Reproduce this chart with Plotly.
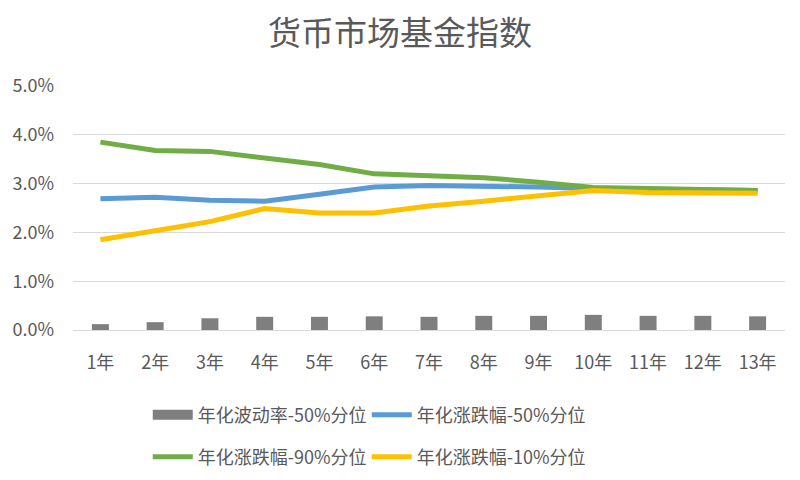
import plotly.graph_objects as go

categories = ["1年", "2年", "3年", "4年", "5年", "6年", "7年", "8年", "9年", "10年", "11年", "12年", "13年"]
vol_50 = [0.0012, 0.0016, 0.0024, 0.0027, 0.0027, 0.0028, 0.0027, 0.0029, 0.0029, 0.0031, 0.0029, 0.0029, 0.0028]
ret_50 = [0.0269, 0.0272, 0.0266, 0.0264, 0.0278, 0.0293, 0.0296, 0.0295, 0.0293, 0.0290, 0.0289, 0.0288, 0.0286]
ret_90 = [0.0385, 0.0368, 0.0366, 0.0353, 0.0339, 0.0320, 0.0316, 0.0312, 0.0303, 0.0292, 0.0290, 0.0289, 0.0286]
ret_10 = [0.0185, 0.0203, 0.0222, 0.0249, 0.0240, 0.0240, 0.0254, 0.0264, 0.0275, 0.0286, 0.0282, 0.0280, 0.0280]
yticks = [0, 0.01, 0.02, 0.03, 0.04, 0.05]

FONT = "Noto Sans CJK SC"
TXT = "#595959"
GRAY = "#7F7F7F"

fig = go.Figure()
fig.add_trace(go.Bar(x=categories, y=vol_50, name="年化波动率-50%分位", showlegend=False,
                     legendgroup="vol", marker=dict(color=GRAY, line=dict(width=0))))
# legend entry for the bar series drawn as a wide block like the original
fig.add_trace(go.Scatter(x=[None], y=[None], name="年化波动率-50%分位", mode="lines",
                         legendgroup="vol", line=dict(color=GRAY, width=11), legend="legend",
                         hoverinfo="skip"))
fig.add_trace(go.Scatter(x=categories, y=ret_50, name="年化涨跌幅-50%分位", mode="lines",
                         line=dict(color="#5B9BD5", width=5), legend="legend"))
fig.add_trace(go.Scatter(x=categories, y=ret_90, name="年化涨跌幅-90%分位", mode="lines",
                         line=dict(color="#70AD47", width=5), legend="legend2"))
fig.add_trace(go.Scatter(x=categories, y=ret_10, name="年化涨跌幅-10%分位", mode="lines",
                         line=dict(color="#FFC000", width=5), legend="legend2"))

legend_common = dict(orientation="h", xanchor="left", yanchor="middle", x=0.105,
                     yref="container",
                     font=dict(family=FONT, size=18, color=TXT), entrywidth=164,
                     bgcolor="rgba(0,0,0,0)", itemwidth=40, traceorder="normal")

fig.update_layout(
    width=800, height=480,
    paper_bgcolor="white", plot_bgcolor="white",
    margin=dict(l=71, r=15, t=86, b=150),
    title=dict(text="货币市场基金指数", x=0.5, xanchor="center", y=1 - 33 / 480, yanchor="middle",
               font=dict(family=FONT, size=33, color=TXT)),
    bargap=0.69,
    showlegend=True,
    legend=dict(y=1 - 415 / 480, **legend_common),
    legend2=dict(y=1 - 457 / 480, **legend_common),
    xaxis=dict(showgrid=False, showline=False, zeroline=False, ticks="",
               tickfont=dict(family=FONT, size=18, color=TXT), ticklabelstandoff=20),
    yaxis=dict(range=[0, 0.05], tickvals=yticks, tickformat=".1%", showgrid=True,
               gridcolor="#D9D9D9", gridwidth=1.3, zeroline=True, zerolinecolor="#D9D9D9",
               zerolinewidth=1.3, showline=False, ticks="",
               tickfont=dict(family=FONT, size=18, color=TXT), ticklabelstandoff=18),
)

fig.write_html("out.html")
